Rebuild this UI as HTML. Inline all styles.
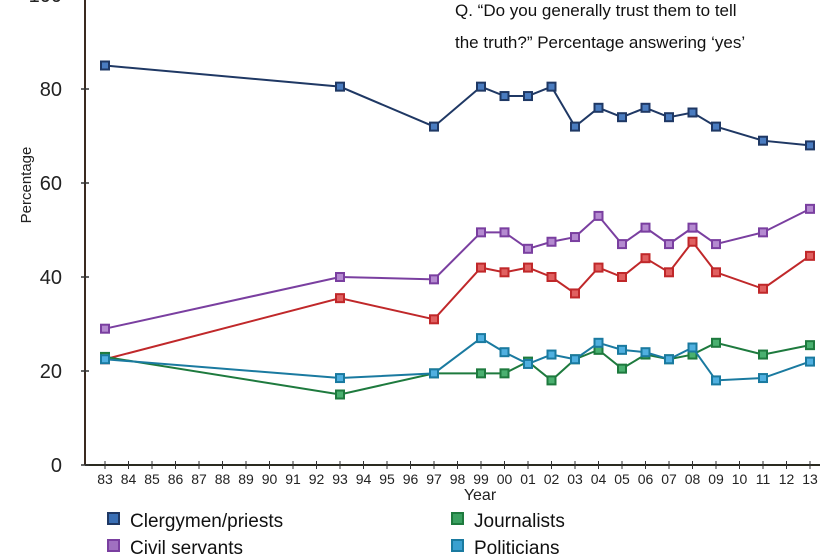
<!DOCTYPE html>
<html><head><meta charset="utf-8"><style>
body{margin:0;background:#fff;}
svg{display:block;font-family:"Liberation Sans",sans-serif;}
</style></head><body>
<svg id="c" width="840" height="560" viewBox="0 0 840 560">
<text x="455" y="16" font-size="17" fill="#111">Q. “Do you generally trust them to tell</text>
<text x="455" y="48" font-size="17" fill="#111">the truth?” Percentage answering ‘yes’</text>
<text transform="translate(31,185) rotate(-90)" text-anchor="middle" font-size="15" fill="#222">Percentage</text>
<text x="480" y="500" text-anchor="middle" font-size="16" fill="#222">Year</text>
<g id="axes"></g><g id="lines"></g>
<g font-size="19" fill="#111">
<rect x="108" y="513" width="11" height="11" fill="#3a6fb5" stroke="#1f3864" stroke-width="2"/>
<text x="130" y="527">Clergymen/priests</text>
<rect x="108" y="540" width="11" height="11" fill="#a070c0" stroke="#7a3fa0" stroke-width="2"/>
<text x="130" y="554">Civil servants</text>
<rect x="452" y="513" width="11" height="11" fill="#3aa060" stroke="#1e7a3e" stroke-width="2"/>
<text x="474" y="527">Journalists</text>
<rect x="452" y="540" width="11" height="11" fill="#3aa0d0" stroke="#1a7aa0" stroke-width="2"/>
<text x="474" y="554">Politicians</text>
</g>
</svg>
<script>
const years=[83,93,97,99,100,101,102,103,104,105,106,107,108,109,111,113];
const yTicks=[0,20,40,60,80,100];
const clergy=[85,80.5,72,80.5,78.5,78.5,80.5,72,76,74,76,74,75,72,69,68];
const civil=[29,40,39.5,49.5,49.5,46,47.5,48.5,53,47,50.5,47,50.5,47,49.5,54.5];
const union=[22.5,35.5,31,42,41,42,40,36.5,42,40,44,41,47.5,41,37.5,44.5];
const journalists=[23,15,19.5,19.5,19.5,22,18,22.5,24.5,20.5,23.5,22.5,23.5,26,23.5,25.5];
const politicians=[22.5,18.5,19.5,27,24,21.5,23.5,22.5,26,24.5,24,22.5,25,18,18.5,22];
const NS="http://www.w3.org/2000/svg";
function X(y){return 105+(y-83)*23.5;}
function Y(v){return 465-4.7*v;}
function mk(t,a,p){const e=document.createElementNS(NS,t);for(const k in a)e.setAttribute(k,a[k]);p.appendChild(e);return e;}
const ax=document.getElementById('axes');
const yl=mk('line',{x1:85,y1:0,x2:85,y2:465,stroke:'#3a2a20','stroke-width':2},ax);


const xl=mk('line',{x1:85,y1:465,x2:820,y2:465,stroke:'#2a2a20','stroke-width':2},ax);


yTicks.forEach(v=>{mk('line',{x1:81,x2:89,y1:Y(v),y2:Y(v),stroke:'#333','stroke-width':1.5},ax);
const t=mk('text',{x:62,y:Y(v)+7,'text-anchor':'end','font-size':20,fill:'#222'},ax);t.textContent=v;

});
for(let y=83;y<=113;y++){mk('line',{x1:X(y),x2:X(y),y1:461,y2:469,stroke:'#333','stroke-width':1},ax);
const t=mk('text',{x:X(y),y:484,'text-anchor':'middle','font-size':14,fill:'#222'},ax);t.textContent=String(y%100).padStart(2,'0');

}
const series=[['clergy',clergy,'#1f3864','#4a7cc0'],['civil-servants',civil,'#7a3fa0','#b48ad0'],['trade-union',union,'#c0282a','#e06060'],['journalists',journalists,'#1e7a3e','#4ab070'],['politicians',politicians,'#1a7aa0','#50b0e0']];
const lg=document.getElementById('lines');
series.forEach(([n,d,c,f])=>{
const p=mk('polyline',{points:d.map((v,i)=>X(years[i])+','+Y(v)).join(' '),fill:'none',stroke:c,'stroke-width':2},lg);


d.forEach((v,i)=>{const r=mk('rect',{x:X(years[i])-4,y:Y(v)-4,width:8,height:8,fill:f,stroke:c,'stroke-width':2},lg);

});
});
</script>
</body></html>
